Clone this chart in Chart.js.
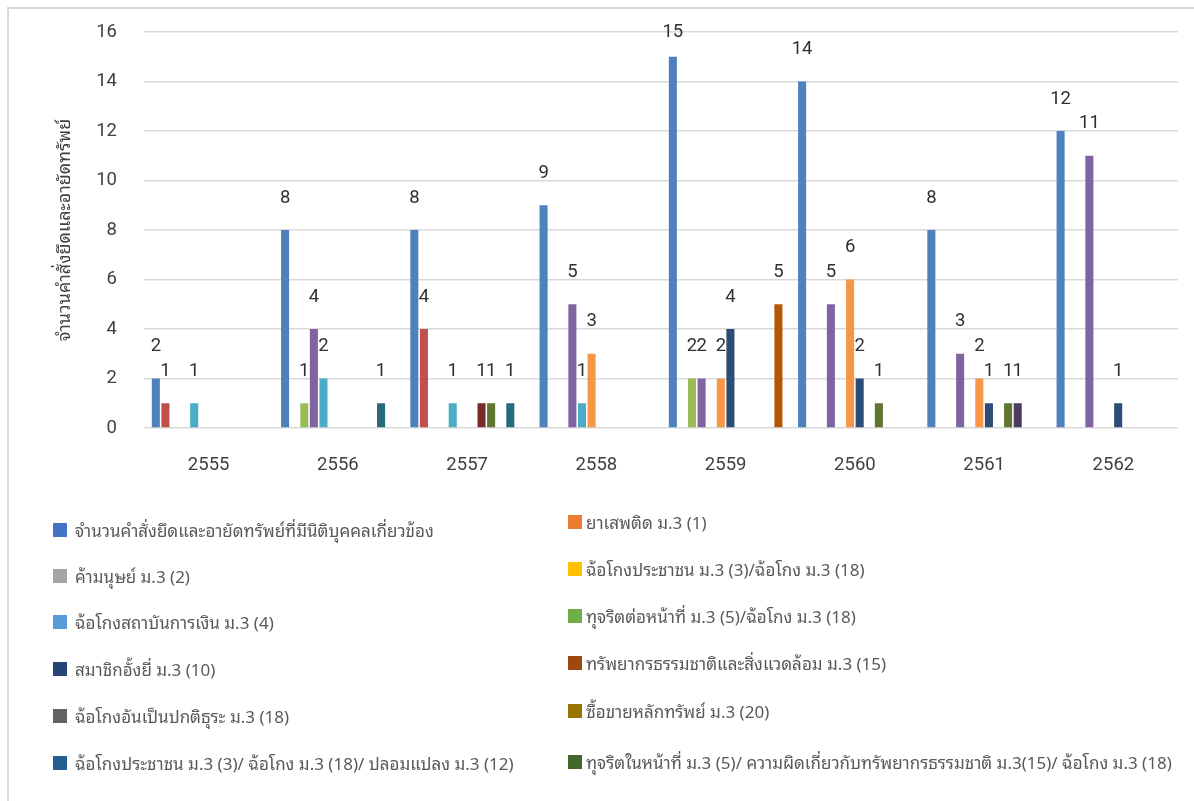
<!DOCTYPE html>
<html lang="th">
<head>
<meta charset="utf-8">
<title>จำนวนคำสั่งยึดและอายัดทรัพย์</title>
<script src="https://cdn.jsdelivr.net/npm/chart.js@4.4.1/dist/chart.umd.min.js"></script>
<style>
  html, body { margin: 0; padding: 0; background: #ffffff; }
  body { width: 1194px; height: 801px; position: relative; overflow: hidden;
         font-family: "Noto Sans Thai Looped", Loma, Garuda, Waree, Tahoma, "Leelawadee UI", "Noto Sans", sans-serif; }
  #frame { position: absolute; left: 7px; top: 7px; width: 1400px; height: 1000px;
           border: 2px solid #d9d9d9; box-sizing: border-box; }
  #plot { position: absolute; left: 0; top: 0; width: 1194px; height: 490px; }
  #legend { position: absolute; left: 0; top: 0; width: 1194px; height: 801px; pointer-events: none; }
  .item { position: absolute; height: 22px; line-height: 22px; font-size: 17px; color: #595959; white-space: nowrap; }
  .swatch { position: absolute; width: 14px; height: 14px; }
</style>
</head>
<body>
<div id="frame"></div>
<div id="plot"><canvas id="chart"></canvas></div>
<div id="legend"></div>
<script>
// Fiscal years (Buddhist era)
const years = ['2555', '2556', '2557', '2558', '2559', '2560', '2561', '2562'];

// Offence groups, in series order
const seriesNames = [
  'จำนวนคำสั่งยึดและอายัดทรัพย์ที่มีนิติบุคคลเกี่ยวข้อง',
  'ยาเสพติด ม.3 (1)',
  'ค้ามนุษย์ ม.3 (2)',
  'ฉ้อโกงประชาชน ม.3 (3)/ฉ้อโกง ม.3 (18)',
  'ฉ้อโกงสถาบันการเงิน ม.3 (4)',
  'ทุจริตต่อหน้าที่ ม.3 (5)/ฉ้อโกง ม.3 (18)',
  'สมาชิกอั้งยี่ ม.3 (10)',
  'ทรัพยากรธรรมชาติและสิ่งแวดล้อม ม.3 (15)',
  'ฉ้อโกงอันเป็นปกติธุระ ม.3 (18)',
  'ซื้อขายหลักทรัพย์ ม.3 (20)',
  'ฉ้อโกงประชาชน ม.3 (3)/ ฉ้อโกง ม.3 (18)/ ปลอมแปลง ม.3 (12)',
  'ทุจริตในหน้าที่ ม.3 (5)/ ความผิดเกี่ยวกับทรัพยากรธรรมชาติ ม.3(15)/ ฉ้อโกง ม.3 (18)'
];

// Number of orders per year for each group (null = none)
const totalOrders      = [2, 8, 8, 9, 15, 14, 8, 12];
const narcotics        = [1, null, 4, null, null, null, null, null];
const trafficking      = [null, 1, null, null, 2, null, null, null];
const publicFraud      = [null, 4, null, 5, 2, 5, 3, 11];
const bankFraud        = [1, 2, 1, 1, null, null, null, null];
const officeCorruption = [null, null, null, 3, 2, 6, 2, null];
const secretSociety    = [null, null, null, null, 4, 2, 1, 1];
const naturalResources = [null, null, 1, null, null, null, null, null];
const habitualFraud    = [null, null, 1, null, null, 1, 1, null];
const securities       = [null, null, null, null, null, null, 1, null];
const fraudForgery     = [null, 1, 1, null, null, null, null, null];
const dutyResources    = [null, null, null, null, 5, null, null, null];

const seriesValues = [totalOrders, narcotics, trafficking, publicFraud, bankFraud, officeCorruption,
  secretSociety, naturalResources, habitualFraud, securities, fraudForgery, dutyResources];

// Y axis ticks
const yMin = 0, yMax = 16, yStep = 2;

// Bar fills and legend swatch fills
const barColors = ['#4F81BD', '#C0504D', '#9BBB59', '#8064A2', '#4BACC6', '#F79646',
  '#2C4D75', '#772C2A', '#5F7530', '#4D3B62', '#276A7C', '#B65708'];
const swatchColors = ['#4472C4', '#ED7D31', '#A5A5A5', '#FFC000', '#5B9BD5', '#70AD47',
  '#264478', '#9E480E', '#636363', '#997300', '#255E91', '#43682B'];

const FONT = 'Roboto, "Noto Sans", sans-serif';
const THAI_FONT = '"Noto Sans Thai Looped", Loma, Garuda, Waree, Tahoma, "Leelawadee UI", "Noto Sans", sans-serif';

// Value labels above each bar
const valueLabels = {
  id: 'valueLabels',
  afterDatasetsDraw(chart) {
    const ctx = chart.ctx;
    ctx.save();
    ctx.font = '18.5px ' + FONT;
    ctx.fillStyle = '#303030';
    ctx.textAlign = 'center';
    ctx.textBaseline = 'middle';
    chart.data.datasets.forEach((ds, i) => {
      const meta = chart.getDatasetMeta(i);
      meta.data.forEach((bar, j) => {
        const v = ds.data[j];
        if (v === null || v === undefined) return;
        const y = Math.max(bar.y - 32, chart.chartArea.top);
        ctx.fillText(String(v), bar.x, y);
      });
    });
    ctx.restore();
  }
};

const chart = new Chart(document.getElementById('chart'), {
  type: 'bar',
  data: {
    labels: years,
    datasets: seriesNames.map((name, i) => ({
      label: name,
      data: seriesValues[i],
      backgroundColor: barColors[i],
      borderWidth: 0,
      categoryPercentage: 0.891,
      barPercentage: 0.84
    }))
  },
  options: {
    responsive: true,
    maintainAspectRatio: false,
    animation: false,
    layout: { padding: { top: 32, right: 16, left: 0, bottom: 0 } },
    plugins: {
      legend: { display: false },
      tooltip: { enabled: false }
    },
    scales: {
      x: {
        grid: { display: false, drawTicks: false },
        border: { display: false },
        ticks: { font: { family: FONT, size: 18.5 }, color: '#404040', padding: 26 },
        afterFit(scale) { scale.height = 62; }
      },
      y: {
        min: yMin,
        max: yMax,
        ticks: { stepSize: yStep, font: { family: FONT, size: 18.5 }, color: '#404040', padding: 27 },
        grid: { color: '#d9d9d9', lineWidth: 1.5, drawTicks: false },
        border: { display: false },
        title: {
          display: true,
          text: 'จำนวนคำสั่งยึดและอายัดทรัพย์',
          font: { family: THAI_FONT, size: 18 },
          color: '#404040',
          padding: { top: 54, bottom: 0 }
        },
        afterFit(scale) {
          scale.width = 144;
          scale.paddingTop = 0;
          scale.paddingBottom = 0;
        }
      }
    }
  },
  plugins: [valueLabels]
});

// Two-column legend, filled row by row
const legendRowsLeft = [530, 576, 622, 669, 716, 763];
const legendRowsRight = [522, 569, 616, 663, 711, 762];
const legendEl = document.getElementById('legend');
chart.data.datasets.forEach((ds, i) => {
  const row = Math.floor(i / 2);
  const right = i % 2 === 1;
  const cy = right ? legendRowsRight[row] : legendRowsLeft[row];
  const sw = document.createElement('div');
  sw.className = 'swatch';
  sw.style.background = swatchColors[i];
  sw.style.left = (right ? 568 : 53) + 'px';
  sw.style.top = (cy - 7) + 'px';
  const tx = document.createElement('div');
  tx.className = 'item';
  tx.textContent = ds.label;
  tx.style.left = (right ? 586 : 75) + 'px';
  tx.style.top = (cy - 11) + 'px';
  legendEl.appendChild(sw);
  legendEl.appendChild(tx);
});
</script>
</body>
</html>
